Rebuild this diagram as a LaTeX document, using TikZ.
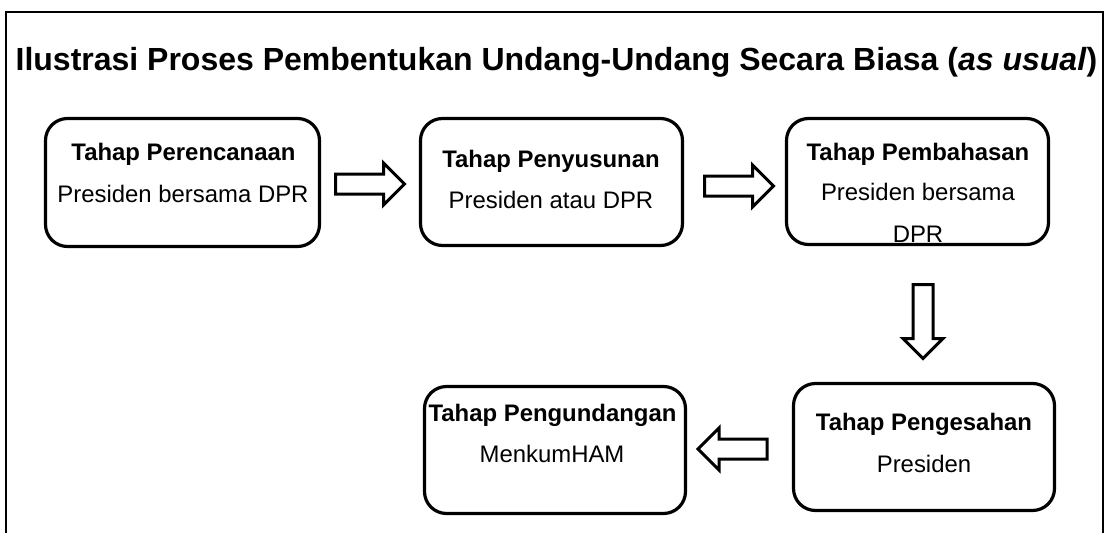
\documentclass[tikz,border=0pt]{standalone}
\usepackage{fontspec}
\setmainfont{Liberation Sans}
\usetikzlibrary{shapes.arrows}
\begin{document}
\begin{tikzpicture}[x=1pt,y=-1pt,
  stage/.style={draw, line width=3.2pt, rounded corners=22pt, minimum width=262pt, minimum height=127pt, inner sep=0pt},
  blockarrow/.style={single arrow, draw, line width=3pt, single arrow head extend=11pt, inner xsep=0pt, inner ysep=8.5pt, minimum height=69pt, minimum width=1pt, anchor=center},
  txt/.style={anchor=base, inner sep=0pt, font=\fontsize{23.9}{28}\selectfont},
  ttl/.style={anchor=base, inner sep=0pt, font=\fontsize{32}{38}\selectfont\bfseries},
  frame/.style={line width=2pt}]
\useasboundingbox (0,0) rectangle (1109,533);
\draw[frame] (5.5,533) -- (5.5,12) -- (1103,12) -- (1103,533);
\node[ttl] (title) at (556.5,70) {Ilustrasi Proses Pembentukan Undang-Undang Secara Biasa (\textit{as usual})};
% boxes
\node[stage, minimum width=274pt, minimum height=128pt] (b1) at (182.5,182.5) {};
\node[stage] (b2) at (551.5,182) {};
\node[stage, minimum height=126pt] (b3) at (917.5,181.5) {};
\node[stage, minimum width=261pt] (b5) at (924,447) {};
\node[stage, minimum width=261pt] (b4) at (555,450) {};
% texts
\node[txt, font=\fontsize{23.9}{28}\selectfont\bfseries] (t1a) at (183.5,160) {Tahap Perencanaan};
\node[txt] (t1b) at (183,202) {Presiden bersama DPR};
\node[txt, font=\fontsize{23.9}{28}\selectfont\bfseries] (t2a) at (551,167) {Tahap Penyusunan};
\node[txt] (t2b) at (551,208) {Presiden atau DPR};
\node[txt, font=\fontsize{23.9}{28}\selectfont\bfseries] (t3a) at (918,160) {Tahap Pembahasan};
\node[txt] (t3b) at (918,200) {Presiden bersama};
\node[txt] (t3c) at (918,242) {DPR};
\node[txt, font=\fontsize{23.9}{28}\selectfont\bfseries] (t5a) at (924,430) {Tahap Pengesahan};
\node[txt] (t5b) at (924,472) {Presiden};
\node[txt, font=\fontsize{23.9}{28}\selectfont\bfseries] (t4a) at (552.5,421) {Tahap Pengundangan};
\node[txt] (t4b) at (552,462) {MenkumHAM};
% block arrows
\node[blockarrow] (a1) at (365,184) {};
\node[blockarrow] (a2) at (734,186) {};
\node[blockarrow, rotate=-90, minimum height=74pt, single arrow head extend=10pt] (a3) at (923,316.5) {};
\node[blockarrow, rotate=180] (a4) at (737.5,449) {};
\end{tikzpicture}
\end{document}
